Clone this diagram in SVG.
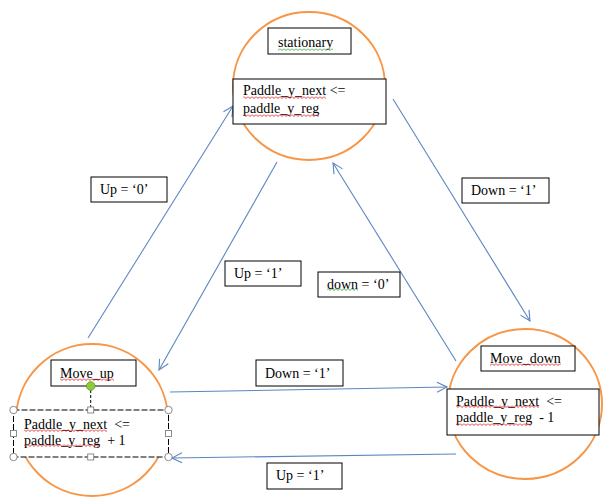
<svg xmlns="http://www.w3.org/2000/svg" width="615" height="504" viewBox="0 0 615 504">
<style>
.st{fill:none;stroke:#F79646;stroke-width:2}
.bx{fill:#fff;stroke:#000;stroke-width:1}
.tx{font-family:"Liberation Serif","Times New Roman",serif;font-size:14px;fill:#000}
.cn{fill:none;stroke:#5B86C0;stroke-width:1.1}
.hd{fill:#fff;stroke:#7F7F7F;stroke-width:0.9}
</style>
<defs>
<marker id="ar" viewBox="0 0 12 12" refX="11" refY="6" markerWidth="12" markerHeight="12" markerUnits="userSpaceOnUse" orient="auto">
<path d="M1,1 L11,6 L1,11" fill="none" stroke="#5B86C0" stroke-width="1.1"/>
</marker>
<pattern id="sqR" width="4" height="3" patternUnits="userSpaceOnUse">
<path d="M0,0.5 L2,2.5 L4,0.5" fill="none" stroke="#E02020" stroke-width="0.9"/>
</pattern>
<pattern id="sqG" width="4" height="3" patternUnits="userSpaceOnUse">
<path d="M0,0.5 L2,2.5 L4,0.5" fill="none" stroke="#3CA040" stroke-width="0.9"/>
</pattern>
</defs>

<g id="connectors">
<line class="cn" x1="88" y1="338" x2="233" y2="106" marker-end="url(#ar)"/>
<line class="cn" x1="277" y1="162" x2="159" y2="370" marker-end="url(#ar)"/>
<line class="cn" x1="393" y1="99" x2="530" y2="321" marker-end="url(#ar)"/>
<line class="cn" x1="456" y1="361" x2="333" y2="163" marker-end="url(#ar)"/>
<line class="cn" x1="170" y1="392" x2="447" y2="387" marker-end="url(#ar)"/>
<line class="cn" x1="456" y1="454" x2="172" y2="458" marker-end="url(#ar)"/>
</g>

<g id="stationary">
<ellipse class="st" cx="309" cy="86" rx="76" ry="74"/>
<rect class="bx" x="268" y="28" width="83" height="26"/>
<text class="tx" x="278" y="47">stationary</text>
<rect x="278" y="48" width="55" height="3" fill="url(#sqG)"/>
<rect class="bx" x="233" y="79" width="153" height="45"/>
<text class="tx" x="243" y="95">Paddle_y_next &lt;=</text>
<text class="tx" x="243" y="112.5">paddle_y_reg</text>
<rect x="243" y="96" width="83" height="3" fill="url(#sqR)"/>
<rect x="243" y="114" width="76" height="3" fill="url(#sqR)"/>
</g>

<g id="move_up">
<ellipse class="st" cx="92" cy="420" rx="76" ry="76"/>
<rect class="bx" x="51" y="360" width="85" height="26"/>
<text class="tx" x="60" y="378">Move_up</text>
<rect x="60" y="378" width="54" height="3" fill="url(#sqR)"/>
<rect x="13.5" y="410" width="155" height="47" fill="#fff" stroke="#000" stroke-width="1" stroke-dasharray="6,2"/>
<text class="tx" x="24" y="429" xml:space="preserve">Paddle_y_next  &lt;=</text>
<text class="tx" x="24" y="444.5" xml:space="preserve">paddle_y_reg  + 1</text>
<rect x="24" y="429" width="83" height="3" fill="url(#sqR)"/>
<rect x="24" y="444" width="76" height="3" fill="url(#sqR)"/>
<line x1="90.7" y1="390" x2="90.7" y2="410" stroke="#000" stroke-width="1" stroke-dasharray="3,2"/>
<circle cx="90.7" cy="386" r="4.3" fill="#8CCB3C" stroke="#5E9A28" stroke-width="0.8"/>
<circle class="hd" cx="13.5" cy="410" r="3.7"/>
<circle class="hd" cx="168.5" cy="410" r="3.7"/>
<circle class="hd" cx="13.5" cy="457" r="3.7"/>
<circle class="hd" cx="168.5" cy="457" r="3.7"/>
<rect class="hd" x="87.7" y="407" width="6" height="6"/>
<rect class="hd" x="87.7" y="454" width="6" height="6"/>
<rect class="hd" x="10.5" y="430.5" width="6" height="6"/>
<rect class="hd" x="165.5" y="430.5" width="6" height="6"/>
</g>

<g id="move_down">
<ellipse class="st" cx="525" cy="404" rx="77" ry="75"/>
<rect class="bx" x="481" y="346" width="94" height="25"/>
<text class="tx" x="490" y="363">Move_down</text>
<rect x="490" y="363" width="71" height="3" fill="url(#sqR)"/>
<rect class="bx" x="447" y="389" width="152" height="46"/>
<text class="tx" x="456" y="405.5" xml:space="preserve">Paddle_y_next  &lt;=</text>
<text class="tx" x="456" y="421.5" xml:space="preserve">paddle_y_reg  - 1</text>
<rect x="456" y="405" width="83" height="3" fill="url(#sqR)"/>
<rect x="456" y="423" width="76" height="3" fill="url(#sqR)"/>
</g>

<g id="label_up0">
<rect class="bx" x="91" y="177" width="76" height="25"/>
<text class="tx" x="100" y="193.5">Up = ‘0’</text>
</g>
<g id="label_up1_diag">
<rect class="bx" x="225" y="261" width="76" height="25"/>
<text class="tx" x="234" y="277.5">Up = ‘1’</text>
</g>
<g id="label_down1_diag">
<rect class="bx" x="462" y="178" width="87" height="25"/>
<text class="tx" x="471" y="195">Down = ‘1’</text>
</g>
<g id="label_down0">
<rect class="bx" x="318" y="272" width="82" height="25"/>
<text class="tx" x="327" y="288.5">down = ‘0’</text>
<rect x="327" y="288" width="31" height="3" fill="url(#sqG)"/>
</g>
<g id="label_down1_h">
<rect class="bx" x="256" y="360" width="87" height="26"/>
<text class="tx" x="265" y="378">Down = ‘1’</text>
</g>
<g id="label_up1_h">
<rect class="bx" x="267" y="463" width="75" height="26"/>
<text class="tx" x="276" y="479.5">Up = ‘1’</text>
</g>
</svg>
